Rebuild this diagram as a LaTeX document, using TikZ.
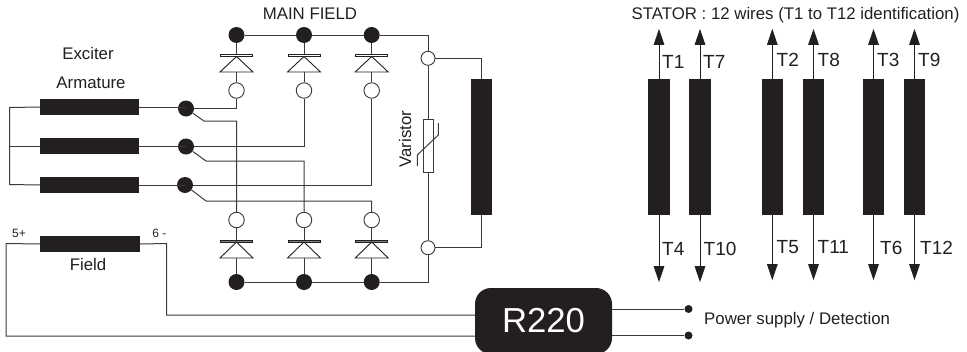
\documentclass[tikz,border=0pt]{standalone}
\usepackage{fontspec}
\setmainfont{Liberation Sans}
\usetikzlibrary{arrows.meta}
\definecolor{ink}{HTML}{231F20}
\definecolor{wire}{HTML}{3A3A3A}
\tikzset{
  wireline/.style={draw=wire,line width=1pt},
  solid dot/.style={circle,fill=ink,draw=none,inner sep=0pt,minimum size=16pt},
  small dot/.style={circle,fill=ink,draw=none,inner sep=0pt,minimum size=8pt},
  open dot/.style={circle,fill=white,draw=wire,line width=0.9pt,inner sep=0pt,minimum size=15.5pt},
  open small/.style={circle,fill=white,draw=wire,line width=0.9pt,inner sep=0pt,minimum size=14pt},
  hcoil/.style={rectangle,fill=ink,draw=none,inner sep=0pt,minimum width=99pt,minimum height=16.5pt},
  vcoil/.style={rectangle,fill=ink,draw=none,inner sep=0pt,minimum width=21.5pt,minimum height=136pt},
  lbl/.style={inner sep=0pt,text=ink,font=\fontsize{16.8}{20}\selectfont},
  tinylbl/.style={inner sep=0pt,text=ink,font=\fontsize{12}{14}\selectfont},
  tlbl/.style={inner sep=0pt,text=ink,anchor=west,font=\fontsize{19}{22}\selectfont},
  arrowline/.style={draw=ink,line width=1pt,-{Triangle[length=16pt,width=10.5pt]}},
  diodeshape/.style={draw=ink,line width=0.9pt,fill=white},
}
\begin{document}
\begin{tikzpicture}[x=1pt,y=-1pt]
\useasboundingbox (0,0) rectangle (967,351);
% exciter armature coils
\node[hcoil] (ca) at (89.5,107) {};
\node[hcoil] (cb) at (89.5,146) {};
\node[hcoil] (cc) at (89.5,185) {};
\coordinate (busa) at (9.5,107.5);
\coordinate (busb) at (9.5,146);
\coordinate (busc) at (9.5,184.5);
\draw[wireline] (ca.west) -- (busa) -- (busc) -- (cc.west);
\draw[wireline] (busb) -- (cb.west);
% junction dots and wires
\node[solid dot] (ja) at (186,108.5) {};
\node[solid dot] (jb) at (186,146.5) {};
\node[solid dot] (jc) at (185,185) {};
\draw[wireline] (ca.east) -- (ca.east -| ja);
\draw[wireline] (cb.east) -- (cb.east -| jb);
\draw[wireline] (cc.east) -- (cc.east -| jc);
% diode circles
\node[open dot] (ta) at (236.5,90.5) {};
\node[open dot] (tb) at (304,90.5) {};
\node[open dot] (tc) at (371.7,90.5) {};
\node[open dot] (ba) at (236.5,220) {};
\node[open dot] (bb) at (304,220) {};
\node[open dot] (bc) at (371.7,220) {};
\node[solid dot] (pa) at (236.5,35) {};
\node[solid dot] (pb) at (304,35) {};
\node[solid dot] (pc) at (371.7,35) {};
\node[solid dot] (na) at (236.5,282) {};
\node[solid dot] (nb) at (304,282) {};
\node[solid dot] (nc) at (371.7,282) {};
% wires diode -> exciter
\coordinate (ka) at (204,121);
\coordinate (kb) at (206,161);
\coordinate (kc) at (206,201);
\draw[wireline] (ja) -| (ta);
\draw[wireline] (jb) -| (tb);
\draw[wireline] (jc) -| (tc);
\draw[wireline] (ja) -- (ka) -| (ba);
\draw[wireline] (jb) -- (kb) -| (bb);
\draw[wireline] (jc) -- (kc) -| (bc);
% diode stems
\foreach \d in {a,b,c}{
  \draw[wireline] (p\d) -- (t\d);
  \draw[wireline] (b\d) -- (n\d);
  \draw[diodeshape,line width=0.8pt] ([xshift=-16pt]p\d.center |- 0,54.3) rectangle ([xshift=16pt]p\d.center |- 0,56.5);
  \draw[diodeshape] (p\d.center |- 0,56.5) -- ([xshift=16.5pt]p\d.center |- 0,72) -- ([xshift=-16.5pt]p\d.center |- 0,72) -- cycle;
  \draw[draw=ink,line width=0.6pt,fill=gray] ([xshift=-16pt]n\d.center |- 0,240) rectangle ([xshift=16pt]n\d.center |- 0,242);
  \draw[diodeshape] (n\d.center |- 0,242) -- ([xshift=16.5pt]n\d.center |- 0,258) -- ([xshift=-16.5pt]n\d.center |- 0,258) -- cycle;
}
% buses
\node[open small] (rt) at (428,58.3) {};
\node[open small] (rb) at (428,247.7) {};
\node[vcoil] (main) at (481.4,147) {};
\node[rectangle,draw=wire,fill=white,line width=0.9pt,inner sep=0pt,minimum width=10pt,minimum height=53pt] (var) at (428,145.5) {};
\draw[wireline] (pa) -- (pb) -- (pc) -| (rt);
\draw[wireline] (na) -- (nb) -- (nc) -| (rb);
\draw[wireline] (rt) -- (var);
\draw[wireline] (var) -- (rb);
\draw[wireline] (rt) -| (main.north);
\draw[wireline] (main.south) |- (rb);
\draw[wireline] (417.3,166) -- (417.3,155) -- (438.3,135) -- (438.3,123);
\node[lbl,rotate=90] (vart) at (405,139) {Varistor};
% field
\node[hcoil,minimum width=100pt] (field) at (90,244) {};
\node[rectangle,fill=ink,draw=none,rounded corners=16pt,minimum width=137pt,minimum height=66pt,inner sep=0pt,text=white,font=\fontsize{34.7}{40}\selectfont] (reg) at (543.5,321) {R220};
\coordinate (fa) at (6,243.5);
\coordinate (fb) at (6,336);
\coordinate (fc) at (475,336);
\coordinate (fd) at (166.5,243.5);
\coordinate (fe) at (166.5,315);
\coordinate (ff) at (475,315);
\draw[wireline] (field.west) -- (fa) -- (fb) -- (fc);
\draw[wireline] (field.east) -- (fd) -- (fe) -- (ff);
\node[small dot] (sa) at (688.5,309) {};
\node[small dot] (sb) at (688.5,335.5) {};
\coordinate (ra) at (612,309);
\coordinate (rbb) at (612,335.5);
\draw[wireline] (ra) -- (sa);
\draw[wireline] (rbb) -- (sb);
% stator coils
\node[vcoil] (s1) at (659,147) {};
\node[vcoil] (s2) at (700,147) {};
\node[vcoil] (s3) at (772.3,147) {};
\node[vcoil] (s4) at (813.5,147) {};
\node[vcoil] (s5) at (873.5,147) {};
\node[vcoil] (s6) at (914.5,147) {};
\draw[arrowline] (s1.north) -- +(0,-50);
\draw[arrowline] (s2.north) -- +(0,-50);
\draw[arrowline] (s3.north) -- +(0,-50);
\draw[arrowline] (s4.north) -- +(0,-50);
\draw[arrowline] (s5.north) -- +(0,-50);
\draw[arrowline] (s6.north) -- +(0,-50);
\draw[arrowline] (s1.south) -- +(0,67);
\draw[arrowline] (s2.south) -- +(0,67);
\draw[arrowline] (s3.south) -- +(0,65);
\draw[arrowline] (s4.south) -- +(0,65);
\draw[arrowline] (s5.south) -- +(0,65);
\draw[arrowline] (s6.south) -- +(0,65);
% labels
\node[lbl] (l1) at (88,53) {Exciter};
\node[lbl] (l2) at (91,83) {Armature};
\node[lbl] (l3) at (310,14) {MAIN FIELD};
\node[lbl] (l4) at (88,264) {Field};
\node[tinylbl] (l5) at (19,233) {5+};
\node[tinylbl] (l6) at (159.5,233) {6 -};
\node[lbl,anchor=west] (l7) at (704,320) {Power supply / Detection};
\node[lbl,anchor=west] (l8) at (631.5,15) {STATOR : 12 wires (T1 to T12 identification)};
\node[tlbl] (t1) at (662,61.5) {T1};
\node[tlbl] (t7) at (703,61.5) {T7};
\node[tlbl] (t2) at (776.5,59.5) {T2};
\node[tlbl] (t8) at (817.5,59.5) {T8};
\node[tlbl] (t3) at (877,59.5) {T3};
\node[tlbl] (t9) at (918,59.5) {T9};
\node[tlbl] (t4) at (662,249) {T4};
\node[tlbl] (t10) at (703.5,249) {T10};
\node[tlbl] (t5) at (776.5,247) {T5};
\node[tlbl] (t11) at (817.5,247) {T11};
\node[tlbl] (t6) at (880,248) {T6};
\node[tlbl] (t12) at (920,248) {T12};
\end{tikzpicture}
\end{document}
